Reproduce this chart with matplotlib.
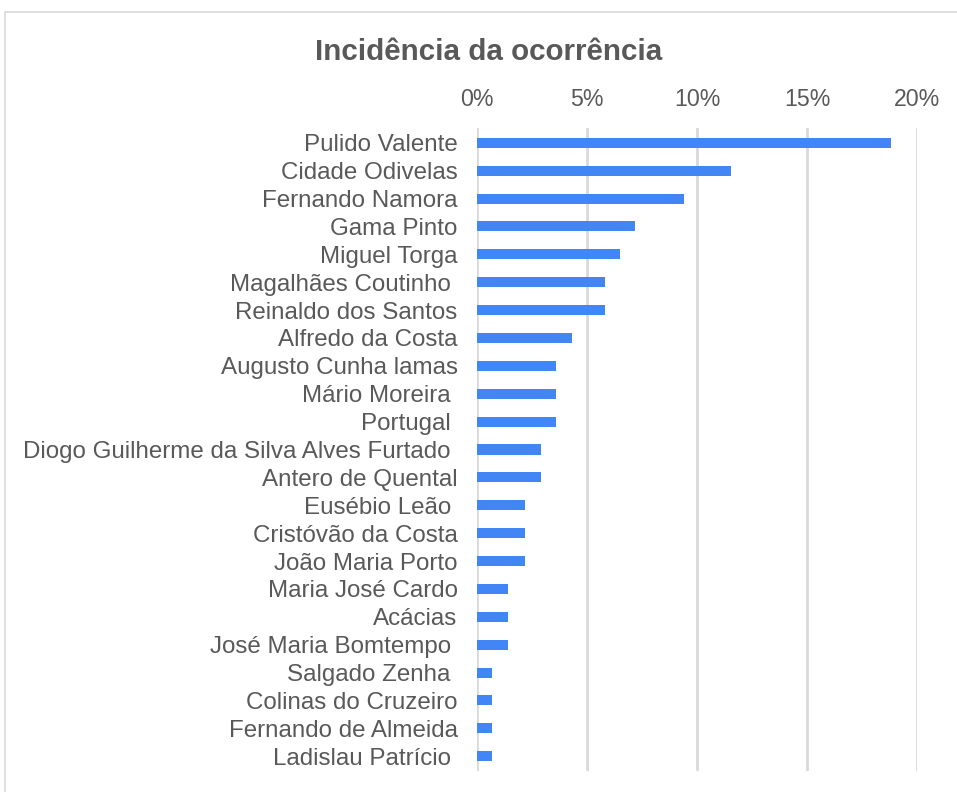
import matplotlib
matplotlib.use("Agg")
import matplotlib.pyplot as plt
from matplotlib.patches import Rectangle
from matplotlib.ticker import FuncFormatter

categories = [
    "Pulido Valente", "Cidade Odivelas", "Fernando Namora", "Gama Pinto",
    "Miguel Torga", "Magalhães Coutinho ", "Reinaldo dos Santos",
    "Alfredo da Costa", "Augusto Cunha lamas", "Mário Moreira ", "Portugal ",
    "Diogo Guilherme da Silva Alves Furtado ", "Antero de Quental",
    "Eusébio Leão ", "Cristóvão da Costa", "João Maria Porto",
    "Maria José Cardo", "Acácias", "José Maria Bomtempo ", "Salgado Zenha ",
    "Colinas do Cruzeiro", "Fernando de Almeida", "Ladislau Patrício ",
]
values = [
    0.188, 0.1155, 0.094, 0.072, 0.065, 0.058, 0.058, 0.043, 0.036, 0.036,
    0.036, 0.029, 0.029, 0.022, 0.022, 0.022, 0.014, 0.014, 0.014, 0.007,
    0.007, 0.007, 0.007,
]
xticks = [0, 0.05, 0.10, 0.15, 0.20]

plt.rcParams['font.family'] = ['Liberation Sans', 'DejaVu Sans']

W, H = 957, 792
fig = plt.figure(figsize=(W / 100, H / 100), dpi=100)
fig.patch.set_facecolor("white")

# outer chart frame (extends past right and bottom edges)
fig.patches.append(Rectangle((5 / W, -0.1), 1, 1.1 - 12 / H, transform=fig.transFigure,
                             fill=False, edgecolor="#D9D9D9", linewidth=1.2))

ax = fig.add_axes([477 / W, 1 - 771 / H, (917 - 477) / W, (771 - 128) / H])
ypos = list(range(len(categories)))
ax.barh(ypos, values, height=0.36, color="#4285F4", zorder=3)
ax.set_ylim(len(categories) - 0.47, -0.53)
ax.set_xlim(0, 0.20)
ax.set_xticks(xticks)
ax.xaxis.set_major_formatter(FuncFormatter(lambda v, p: f"{v * 100:.0f}%"))
ax.xaxis.tick_top()
ax.set_yticks(ypos)
ax.set_yticklabels(categories)
ax.tick_params(axis="both", length=0, labelcolor="#595959")
ax.tick_params(axis="y", pad=14, labelsize=17.4)
ax.tick_params(axis="x", pad=12, labelsize=16.7)
ax.grid(axis="x", color="#D9D9D9", linewidth=2, zorder=0)
for s in ax.spines.values():
    s.set_visible(False)

fig.text(489 / W, 1 - 52 / H, "Incidência da ocorrência", ha="center", va="center",
         fontsize=21.3, fontweight="bold", color="#595959")

fig.savefig("out.png", dpi=100)
